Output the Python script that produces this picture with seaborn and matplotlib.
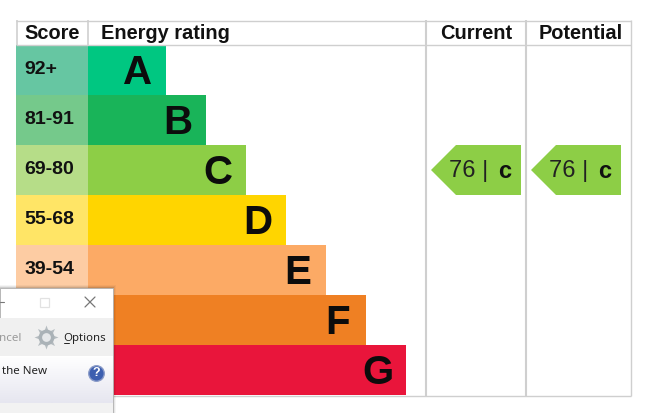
import matplotlib
matplotlib.use("Agg")
import matplotlib.pyplot as plt
import seaborn as sns
import pandas as pd
import numpy as np
from matplotlib.patches import Polygon, Rectangle

ratings = ["A", "B", "C", "D", "E", "F", "G"]
scores = ["92+", "81-91", "69-80", "55-68", "39-54", "", ""]
bar_lengths = [78, 118, 158, 198, 238, 278, 318]
bar_colors = ["#00c781", "#19b459", "#8dce46", "#ffd500", "#fcaa65", "#ef8023", "#e9153b"]
score_colors = ["#66c6a2", "#75c98b", "#b6dd88", "#ffe566", "#fdcca3", "#f5b27a", "#f2738a"]
score_width = [72] * 7
headers = ["Score", "Energy rating", "Current", "Potential"]
current_value, potential_value, current_band = 76, 76, "C"

sns.set_theme(style="white")
plt.rcParams["font.family"] = ["Liberation Sans", "DejaVu Sans"]
W, H = 650, 413
fig = plt.figure(figsize=(W / 100, H / 100), dpi=100, facecolor="white")

def px_axes(x0, y0, x1, y1, z=1):
    a = fig.add_axes([x0 / W, 1 - y1 / H, (x1 - x0) / W, (y1 - y0) / H], zorder=z)
    a.patch.set_alpha(0)
    return a

df = pd.DataFrame({"rating": ratings, "len": bar_lengths, "score": scores, "sw": score_width})

# score column
ax_s = px_axes(16, 45, 88, 395, 2)
sns.barplot(data=df, y="rating", x="sw", hue="rating", palette=score_colors, legend=False,
            width=1, ax=ax_s, saturation=1, linewidth=0)
ax_s.set_xlim(0, 72)
ax_s.set_ylim(6.5, -0.5)
ax_s.axis("off")
for i, s in enumerate(scores):
    if s:
        ax_s.text(8.5, i, s, fontsize=14, fontweight="bold", color="#111111", va="center", ha="left")

# rating bars
ax = px_axes(88, 45, 426, 395, 2)
sns.barplot(data=df, y="rating", x="len", hue="rating", palette=bar_colors, legend=False,
            width=1, ax=ax, saturation=1, linewidth=0)
ax.set_xlim(0, 338)
ax.set_ylim(6.5, -0.5)
ax.axis("off")
for i, (r, l) in enumerate(zip(ratings, bar_lengths)):
    ax.text(l - 28.5, i + 0.05, r, fontsize=29, fontweight="bold", color="#0c0c0c", va="center", ha="center")

# frame and headers
ov = px_axes(0, 0, W, H, 3)
ov.set_xlim(0, W)
ov.set_ylim(H, 0)
ov.axis("off")
grid = "#cfcfcf"
ov.hlines([20.5, 45, 395.5], 16, 631, color=grid, lw=1)
ov.vlines([16.5, 88], 20, 45, color=grid, lw=1.2)
ov.vlines([426, 526], 20, 396, color=grid, lw=1.5)
ov.vlines([631], 20, 396, color=grid, lw=1)
for x, t, ha in zip([24, 101, 476, 581], headers, ["left", "left", "center", "center"]):
    ov.text(x, 33.5, t, fontsize=14.4, fontweight="bold", color="#111111", ha=ha, va="center")

# current / potential arrows
row = ratings.index(current_band)
yc = 45 + 50 * row + 25
for x_off, val in zip([0, 100], [current_value, potential_value]):
    pts = [(431 + x_off, yc), (456 + x_off, yc - 25), (521 + x_off, yc - 25),
           (521 + x_off, yc + 25), (456 + x_off, yc + 25)]
    ov.add_patch(Polygon(pts, closed=True, fc=bar_colors[row], ec="none"))
    ov.text(449 + x_off, yc + 1, f"{val} |", fontsize=17, color="#222222", va="center", ha="left")
    ov.text(504.5 + x_off, yc + 1.5, current_band.lower(), fontsize=17, fontweight="bold",
            color="#111111", va="center", ha="center")

# overlapping window fragment
dz = px_axes(0, 0, W, H, 4)
dz.axis("off")
for k, a in zip([3, 2, 1], [0.04, 0.06, 0.10]):
    dz.add_patch(Rectangle((0, 288 - k), 113 + k, 125 + k, fc="black", alpha=a, ec="none"))
dz.add_patch(Rectangle((0, 288), 113, 125, fc="white", ec="#b0b0b0", lw=0.6))
dz.add_patch(Rectangle((0, 318), 112.5, 38, fc="#f0f0f0", ec="none"))
grad = np.linspace(0, 1, 40)[:, None]
dz.imshow(grad, extent=(0, 112.5, 403, 356), cmap=matplotlib.colors.LinearSegmentedColormap.from_list(
    "g", ["#ffffff", "#e6e6f0"]), aspect="auto", zorder=1)
dz.add_patch(Rectangle((0, 403), 112.5, 10, fc="#f2f2f2", ec="none", zorder=1))
dz.set_xlim(0, W)
dz.set_ylim(H, 0)
dz.plot([0, 4], [302, 302], color="#777777", lw=0.8, zorder=3)
dz.add_patch(Rectangle((39.5, 297.5), 9, 9, fc="none", ec="#e2e2e2", lw=0.9, zorder=3))
dz.plot([85, 95], [297, 307], color="#777777", lw=0.9, zorder=3)
dz.plot([85, 95], [307, 297], color="#777777", lw=0.9, zorder=3)
dz.text(-1, 338.5, "ncel", fontsize=8.4, color="#9a9a9a", family="Noto Sans", va="center", ha="left", zorder=3)
dz.text(63, 338.5, "Options", fontsize=8.2, color="#222222", family="Noto Sans", va="center", ha="left", zorder=3)
dz.plot([63.5, 69], [342.5, 342.5], color="#222222", lw=0.7, zorder=3)
dz.scatter([46], [337], marker=(8, 1, 0), s=300, c="#b5bcc0", zorder=3, linewidths=0)
dz.scatter([46], [337], marker="o", s=130, c="#aab2b7", zorder=4, linewidths=0)
dz.scatter([46], [337], marker="o", s=40, c="#e6e8ea", zorder=5, linewidths=0)
dz.text(2, 372, "the New", fontsize=8.3, color="#222222", family="Noto Sans", va="center", ha="left", zorder=3)
dz.scatter([96], [373], marker="o", s=125, c="#3d5fb0", edgecolors="#8a9bc8", linewidths=1, zorder=3)
dz.text(96, 373.5, "?", fontsize=9, fontweight="bold", color="white", va="center", ha="center", zorder=4)

fig.savefig("out.png", dpi=100, facecolor="white")
